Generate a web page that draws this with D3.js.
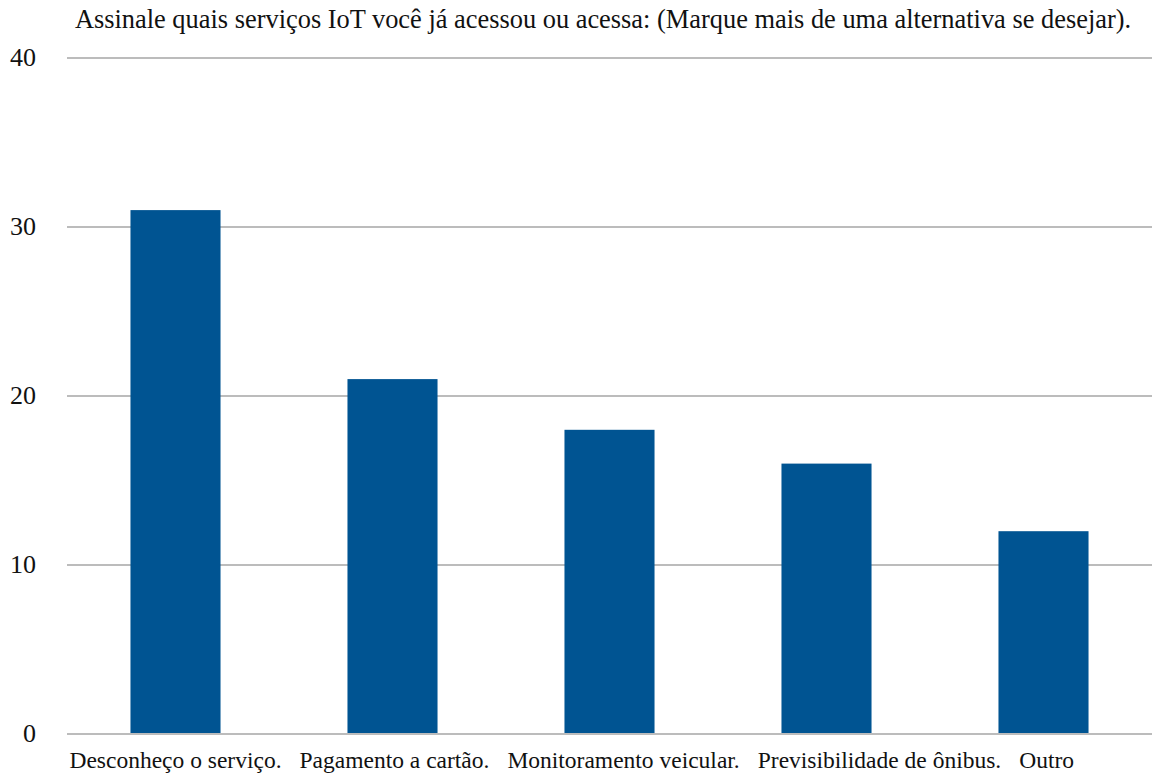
<!DOCTYPE html>
<html>
<head>
<meta charset="utf-8">
<script src="https://cdn.jsdelivr.net/npm/d3@7"></script>
<style>
  html, body { margin: 0; padding: 0; background: #fff; }
  svg { display: block; font-family: "Liberation Serif", "Times New Roman", serif; }
</style>
</head>
<body>
<svg id="chart" width="1156" height="776"></svg>
<script>
// Survey answers: which IoT services have been used
const categories = [
  "Desconheço o serviço.",
  "Pagamento a cartão.",
  "Monitoramento veicular.",
  "Previsibilidade de ônibus.",
  "Outro"
];
const counts = [31, 21, 18, 16, 12];
const yTicks = [0, 10, 20, 30, 40];
const title = "Assinale quais serviços IoT você já acessou ou acessa: (Marque mais de uma alternativa se desejar).";

const svg = d3.select("#chart");
const margin = { left: 67, right: 4, top: 58, bottom: 42 };
const W = 1156, H = 776;

const x = d3.scaleBand()
  .domain(categories)
  .range([margin.left, W - margin.right])
  .paddingInner(0.585)
  .paddingOuter(0.2925);

const y = d3.scaleLinear()
  .domain([0, 40])
  .range([H - margin.bottom, margin.top]);

// horizontal gridlines
svg.append("g")
  .selectAll("line")
  .data(yTicks)
  .join("line")
  .attr("x1", margin.left)
  .attr("x2", W - margin.right)
  .attr("y1", d => y(d))
  .attr("y2", d => y(d))
  .attr("stroke", "#bcbcbc")
  .attr("stroke-width", 2);

// y tick labels
svg.append("g")
  .selectAll("text")
  .data(yTicks)
  .join("text")
  .attr("x", 36)
  .attr("y", d => y(d))
  .attr("dy", "0.3em")
  .attr("text-anchor", "end")
  .attr("font-size", 26)
  .attr("fill", "#111")
  .text(d => d);

// bars
svg.append("g")
  .selectAll("rect")
  .data(categories)
  .join("rect")
  .attr("x", d => x(d))
  .attr("width", x.bandwidth())
  .attr("y", (d, i) => y(counts[i]))
  .attr("height", (d, i) => y(0) - y(counts[i]) - 1)
  .attr("fill", "#005492");

// category labels: centred under each bar, then nudged right so
// neighbouring labels keep a minimum gap between them
const labelGap = 18;
const labels = svg.append("g")
  .selectAll("text")
  .data(categories)
  .join("text")
  .attr("y", 768)
  .attr("text-anchor", "start")
  .attr("font-size", 23.5)
  .attr("fill", "#111")
  .text(d => d);

let prevEnd = -Infinity;
labels.each(function (d) {
  const w = this.getComputedTextLength();
  let left = x(d) + x.bandwidth() / 2 - w / 2;
  if (left < prevEnd + labelGap) left = prevEnd + labelGap;
  d3.select(this).attr("x", left);
  prevEnd = left + w;
});

// title
svg.append("text")
  .attr("x", 603)
  .attr("y", 28)
  .attr("text-anchor", "middle")
  .attr("font-size", 26.4)
  .attr("fill", "#111")
  .text(title);
</script>
</body>
</html>
